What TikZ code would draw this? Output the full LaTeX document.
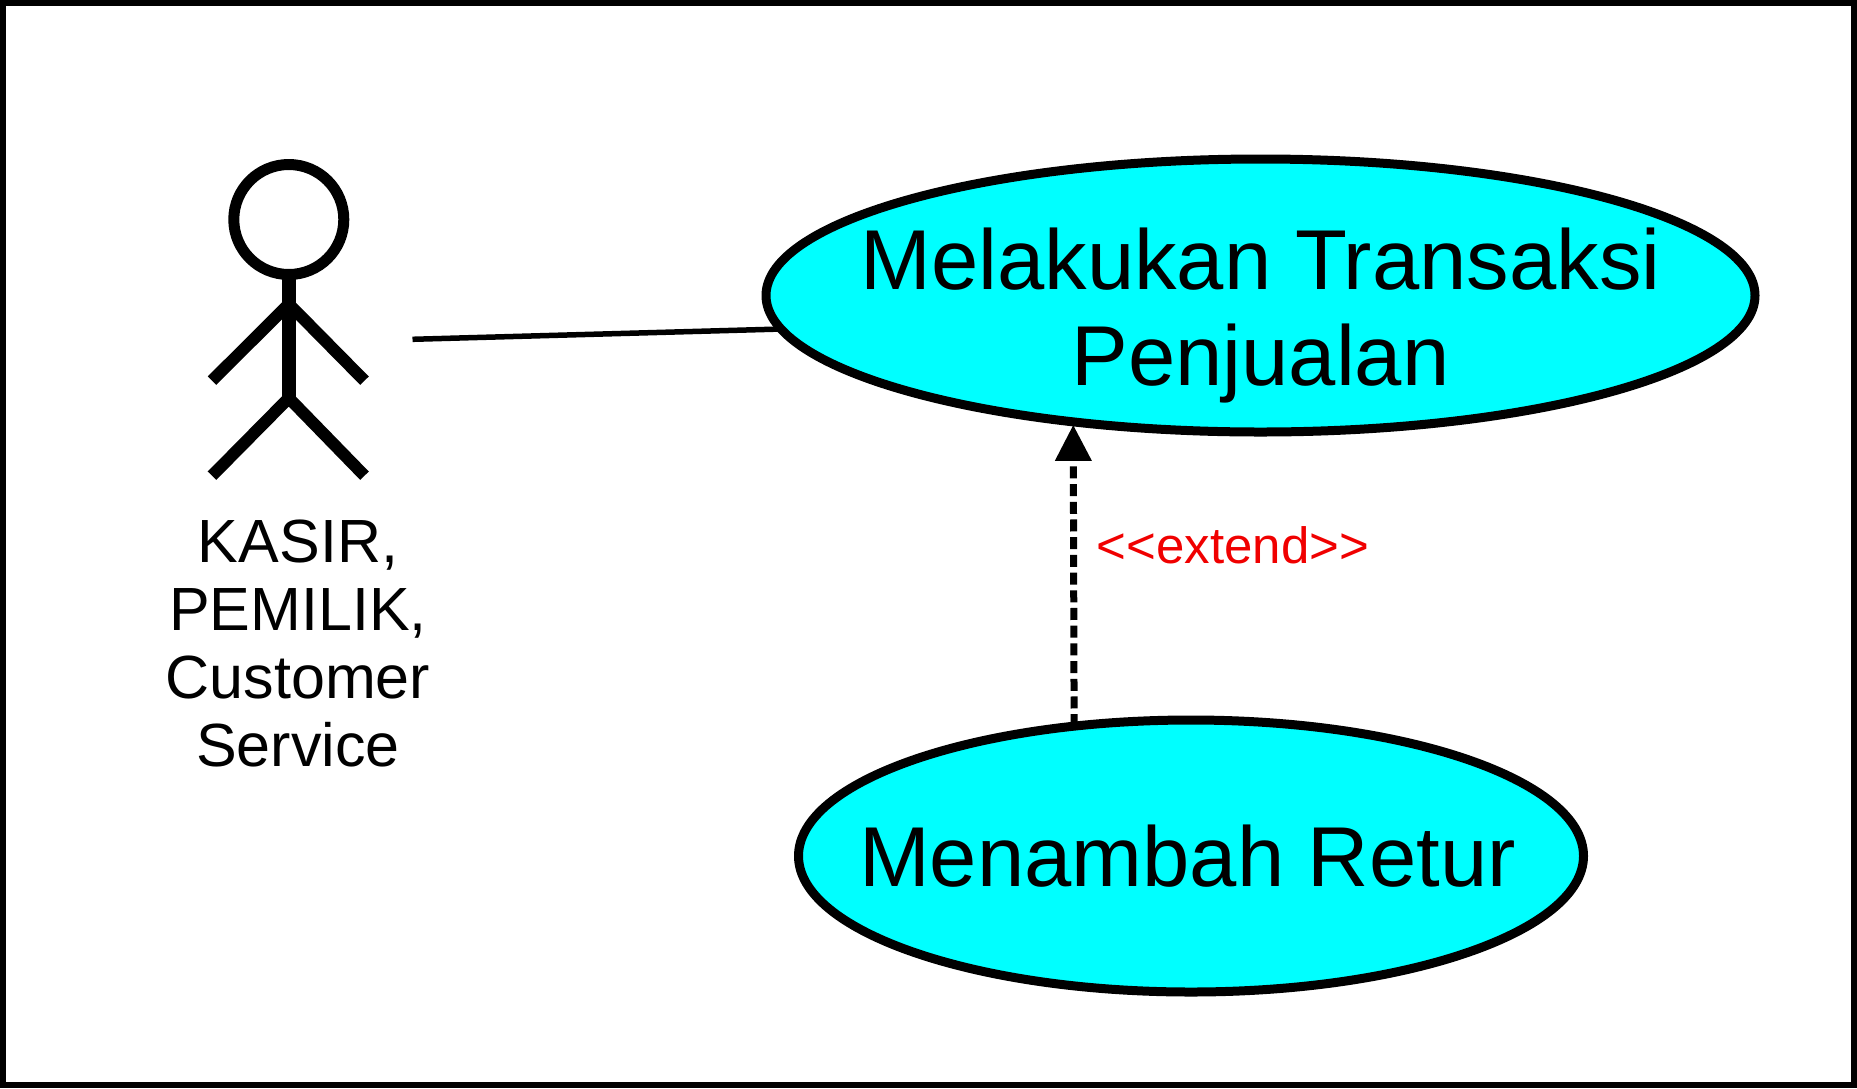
\documentclass[tikz,border=0pt]{standalone}
\usepackage{fontspec}
\setmainfont{Liberation Sans}
\usetikzlibrary{shapes.geometric,arrows.meta}
\definecolor{UseCyan}{HTML}{00FFFF}
\definecolor{ExtRed}{HTML}{F00000}
\tikzset{
    usecase/.style = {draw, ellipse, fill=UseCyan, line width=9pt, inner sep=-60pt, outer sep=0pt,
        align=center, font=\fontsize{85}{96}\selectfont},
    limb/.style = {draw, line width=12pt},
    actorlabel/.style = {align=center, inner sep=0pt, font=\fontsize{61}{68}\selectfont},
    assoc/.style = {draw, line width=5.5pt},
    extends/.style = {draw, line width=7pt, dash pattern=on 12pt off 5.7pt, shorten >=3pt,
        -{Triangle[length=36pt,width=35pt]}}
}
\begin{document}
\begin{tikzpicture}[x=1pt,y=1pt]
    \useasboundingbox (0,0) rectangle (1857,-1088);
    \node [draw, line width=6pt, minimum width=1851pt, minimum height=1082pt, inner sep=0pt, outer sep=0pt] (frame) at (928.5,-544) {};
    % actor
    \node [draw, circle, line width=11pt, minimum size=110pt, inner sep=0pt, outer sep=0pt] (head) at (288.8,-219.5) {};
    \coordinate (neck) at (288.8,-304);
    \coordinate (hip) at (288.8,-398);
    \coordinate (handl) at (212,-380.7);
    \coordinate (handr) at (364.5,-380.7);
    \coordinate (footl) at (212,-475.7);
    \coordinate (footr) at (364.5,-475.7);
    \draw [limb, line width=14.3pt] (head.south) -- (hip);
    \draw [limb] (handl) -- (neck) -- (handr);
    \draw [limb] (footl) -- (hip) -- (footr);
    \node [actorlabel] (actor) at (298,-643) {KASIR,\\PEMILIK,\\Customer\\Service};
    % use cases
    \node [usecase, minimum width=989pt, minimum height=273pt, text height=197pt] (jual) at (1260.5,-295.5) {Melakukan Transaksi\\Penjualan};
    \node [usecase, minimum width=785pt, minimum height=272pt] (retur) at (1191,-856) {Menambah Retur\kern7pt};
    \coordinate (actorhand) at (412.5,-339.3);
    \draw [assoc] (actorhand) -- (jual.184);
    \draw [extends] (retur.132) -- (jual.214);
    \node [text=ExtRed, inner sep=0pt, font=\fontsize{51}{60}\selectfont] (extlabel) at (1233,-545) {<{}<extend>{}>};
\end{tikzpicture}
\end{document}
